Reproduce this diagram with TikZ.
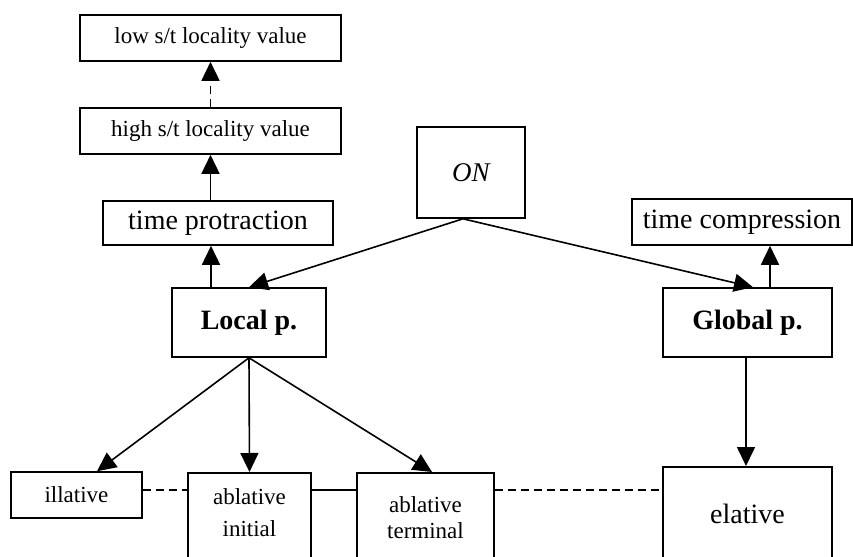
\documentclass[tikz,border=0pt]{standalone}
\usepackage{fontspec}
\setmainfont{Liberation Serif}
\usetikzlibrary{arrows.meta}
\begin{document}
\begin{tikzpicture}[x=0.5pt,y=-0.5pt,
  box/.style={draw, line width=0.8pt, inner sep=0pt},
  big/.style={font=\fontsize{14}{16}\selectfont},
  small/.style={font=\fontsize{11.5}{16}\selectfont},
  arr/.style={line width=0.8pt, -{Triangle[length=9.5pt,width=9pt]}},
  link/.style={line width=0.8pt},
  dashlink/.style={line width=0.8pt, dash pattern=on 4pt off 2.5pt}]
\useasboundingbox (0,0) rectangle (853,557);
\clip (0,0) rectangle (853,557);

% upper chain above the local path
\node[box, small, minimum width=130.5pt, minimum height=23pt] (low) at (210.5,38) {low s/t locality value};
\node[box, small, minimum width=130.5pt, minimum height=23pt] (high) at (210.5,131) {high s/t locality value};
\node[box, big, minimum width=115pt, minimum height=22pt] (tp) at (218,223) {time protraction};

% root and the two paths
\node[box, font=\fontsize{13.5}{16}\selectfont\itshape, minimum width=54pt, minimum height=45.5pt] (on) at (471,172.5) {ON};
\node[box, big, minimum width=110pt, minimum height=23pt] (tc) at (742,222) {time compression};
\node[box, big, minimum width=77pt, minimum height=34.5pt] (local) at (249,322.5) {\textbf{Local p.}};
\node[box, big, minimum width=84.5pt, minimum height=34.5pt] (global) at (747.5,322.5) {\textbf{Global p.}};

% bottom row (tall boxes run past the lower edge)
\node[box, small, minimum width=65.5pt, minimum height=23pt] (ill) at (76.5,495) {illative};
\node[box, small, anchor=north, align=center, minimum width=61.5pt,
      text height=32pt, text depth=30pt] (abi) at (249.5,472) {ablative\\initial};
\node[box, font=\fontsize{11.5}{13}\selectfont, anchor=north, align=center, minimum width=68.5pt,
      text height=33pt, text depth=30pt] (abt) at (425.5,472) {ablative\\terminal};
\node[box, big, anchor=north, minimum width=84.5pt,
      text height=28.5pt, text depth=40pt] (ela) at (747.5,466) {elative};

% connectors
\coordinate (apex) at ([xshift=-4pt]on.south);
\draw[arr] (apex) -- (local.north);
\draw[arr] (apex) -- ([xshift=2.75pt]global.north);
\coordinate (lup) at ([xshift=-19pt]local.north);
\draw[arr] (lup) -- (lup |- tp.south);
\draw[arr] (high.south |- tp.north) -- (high.south);
\draw[arr, dashlink] (high.north) -- (low.south);
\coordinate (gup) at ([xshift=11.25pt]global.north);
\draw[arr] (gup) -- (gup |- tc.south);
\draw[arr] (local.south) -- ([xshift=10.25pt]ill.north);
\draw[arr] (local.south) -- (abi.north);
\draw[arr] (local.south) -- ([xshift=3.25pt]abt.north);
\draw[arr] ([xshift=-0.75pt]global.south) -- ([xshift=-0.75pt]global.south |- ela.north);

\coordinate (lvl) at ([yshift=2.5pt]ill.east);
\draw[dashlink] (lvl) -- (lvl -| abi.west);
\draw[link] (lvl -| abi.east) -- (lvl -| abt.west);
\draw[dashlink] (lvl -| abt.east) -- (lvl -| ela.west);
\end{tikzpicture}
\end{document}
